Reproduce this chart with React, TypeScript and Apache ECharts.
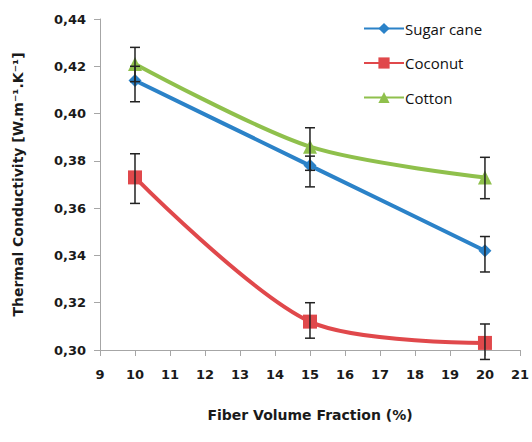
import React, { useEffect, useRef } from "react";
import * as echarts from "echarts";

const fractions = [10, 15, 20];
const sugarCane = [0.414, 0.378, 0.342];
const coconut = [0.373, 0.312, 0.303];
const cotton = [0.421, 0.386, 0.373];

const sugarCaneLow = [0.405, 0.369, 0.333];
const sugarCaneHigh = [0.42, 0.382, 0.348];
const coconutLow = [0.362, 0.305, 0.296];
const coconutHigh = [0.383, 0.32, 0.311];
const cottonLow = [0.4135, 0.376, 0.364];
const cottonHigh = [0.428, 0.394, 0.3815];

const BLUE = "#2B82C8";
const RED = "#E0484B";
const GREEN = "#8FC04C";

const pairs = (ys: number[]) => fractions.map((x, i) => [x, ys[i]]);
const errData = (lo: number[], hi: number[]) => fractions.map((x, i) => [x, lo[i], hi[i]]);

const renderErr = (params: any, api: any) => {
  const x = api.value(0);
  const lo = api.coord([x, api.value(1)]);
  const hi = api.coord([x, api.value(2)]);
  const w = 5;
  const style = { stroke: "#222", lineWidth: 1.5 };
  return {
    type: "group",
    children: [
      { type: "line", shape: { x1: lo[0], y1: lo[1], x2: hi[0], y2: hi[1] }, style },
      { type: "line", shape: { x1: lo[0] - w, y1: lo[1], x2: lo[0] + w, y2: lo[1] }, style },
      { type: "line", shape: { x1: hi[0] - w, y1: hi[1], x2: hi[0] + w, y2: hi[1] }, style },
    ],
  };
};

export default function App() {
  const ref = useRef<HTMLDivElement>(null);
  useEffect(() => {
    const chart = echarts.init(ref.current!, null, { renderer: "svg" });
    const axisFont = { fontFamily: "DejaVu Sans", fontWeight: "bold" as const, fontSize: 13, color: "#1a1a1a" };
    chart.setOption({
      animation: false,
      backgroundColor: "#fff",
      grid: { left: 100, right: 8, top: 19, bottom: 92 },
      legend: {
        orient: "vertical",
        left: 358,
        top: 16,
        itemWidth: 40,
        itemHeight: 14,
        itemGap: 19.5,
        textStyle: { fontFamily: "Open Sans", fontSize: 15, color: "#111", padding: [0, 0, 0, -4] },
        data: ["Sugar cane", "Coconut", "Cotton"],
      },
      xAxis: {
        type: "value",
        min: 9,
        max: 21,
        interval: 1,
        name: "Fiber Volume Fraction (%)",
        nameLocation: "middle",
        nameGap: 58,
        nameTextStyle: { fontFamily: "DejaVu Sans", fontWeight: "bold", fontSize: 14, color: "#1a1a1a" },
        axisLine: { lineStyle: { color: "#a6a6a6", width: 1 } },
        axisTick: { length: 6, lineStyle: { color: "#a6a6a6" } },
        axisLabel: { ...axisFont, margin: 18 },
        splitLine: { show: false },
      },
      yAxis: {
        type: "value",
        min: 0.3,
        max: 0.44,
        interval: 0.02,
        name: "Thermal Conductivity [W.m⁻¹.K⁻¹]",
        nameLocation: "middle",
        nameGap: 75,
        nameTextStyle: { fontFamily: "DejaVu Sans", fontWeight: "bold", fontSize: 14, color: "#1a1a1a" },
        axisLine: { show: true, lineStyle: { color: "#a6a6a6", width: 1 } },
        axisTick: { show: true, length: 6, lineStyle: { color: "#a6a6a6" } },
        axisLabel: { ...axisFont, margin: 14, formatter: (v: number) => v.toFixed(2).replace(".", ",") },
        splitLine: { show: false },
      },
      series: [
        {
          name: "Sugar cane",
          type: "line",
          data: pairs(sugarCane),
          smooth: 0.12,
          symbol: "diamond",
          symbolSize: 13,
          lineStyle: { color: BLUE, width: 4 },
          itemStyle: { color: BLUE },
          z: 3,
        },
        {
          name: "Coconut",
          type: "line",
          data: pairs(coconut),
          smooth: 0.3,
          symbol: "rect",
          symbolSize: 14,
          lineStyle: { color: RED, width: 4 },
          itemStyle: { color: RED },
          z: 3,
        },
        {
          name: "Cotton",
          type: "line",
          data: pairs(cotton),
          smooth: 0.3,
          symbol: "triangle",
          symbolSize: 14,
          lineStyle: { color: GREEN, width: 4 },
          itemStyle: { color: GREEN },
          z: 3,
        },
        { type: "custom", renderItem: renderErr, data: errData(sugarCaneLow, sugarCaneHigh), z: 5, clip: false },
        { type: "custom", renderItem: renderErr, data: errData(coconutLow, coconutHigh), z: 5, clip: false },
        { type: "custom", renderItem: renderErr, data: errData(cottonLow, cottonHigh), z: 5, clip: false },
      ],
    });
    return () => chart.dispose();
  }, []);
  return <div ref={ref} style={{ position: "absolute", left: 0, top: 0, width: 532, height: 442 }} />;
}
